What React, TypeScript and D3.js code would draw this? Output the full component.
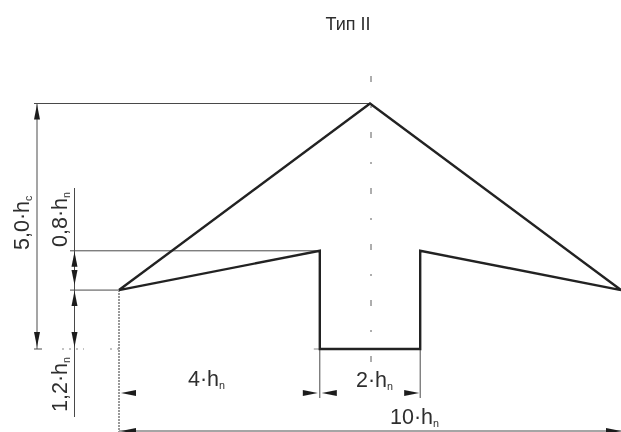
import React from "react";
import * as d3 from "d3";

const title = "Тип II";
const outlineX = [0, 5, 10, 6, 6, 4, 4, 0];
const outlineY = [1.2, 5, 1.2, 2, 0, 0, 2, 1.2];
const levels = [0, 1.2, 2, 5];

const x = d3.scaleLinear().domain([0, 10]).range([119, 621]);
const y = d3.scaleLinear().domain([0, 5]).range([349, 103.5]);
const W = 621;
const H = 432;
const FONT = "'Liberation Sans', Arial, sans-serif";
const TXT = "#2e2e2e";
const LINE = "#4a4a4a";

const outline = d3
  .line<number>()
  .x((d) => x(outlineX[d]))
  .y((d) => y(outlineY[d]))(outlineX.map((_, i) => i)) as string;

function Arrow({ px, py, dir }: { px: number; py: number; dir: "l" | "r" | "u" | "d" }) {
  const L = 15;
  const w = 3;
  const p =
    dir === "l"
      ? [[px, py], [px + L, py - w], [px + L, py + w]]
      : dir === "r"
      ? [[px, py], [px - L, py - w], [px - L, py + w]]
      : dir === "u"
      ? [[px, py], [px - w, py + L], [px + w, py + L]]
      : [[px, py], [px - w, py - L], [px + w, py - L]];
  return <polygon points={p.map((q) => q.join(",")).join(" ")} fill="#1c1c1c" />;
}

function Label({ px, py, main, sub, size = 21.5, rot = false }: { px: number; py: number; main: string; sub: string; size?: number; rot?: boolean }) {
  return (
    <text
      transform={`translate(${px},${py})${rot ? " rotate(-90)" : ""}`}
      fontFamily={FONT}
      fontSize={size}
      fill={TXT}
    >
      {main}
      <tspan fontSize={size * 0.5} dy={3}>{sub}</tspan>
    </text>
  );
}

export default function App() {
  const x0 = x(0), x4 = x(4), x5 = x(5), x6 = x(6), x10 = x(10);
  const [y0, y12, y2, y5] = levels.map((v) => y(v));
  return (
    <svg
      width={W}
      height={H}
      viewBox={`0 0 ${W} ${H}`}
      style={{ position: "absolute", left: 0, top: 0, background: "#fff" }}
    >
      <defs>
        <filter id="soft" x="-2%" y="-2%" width="104%" height="104%">
          <feGaussianBlur stdDeviation="0.45" />
        </filter>
      </defs>
      <g filter="url(#soft)">
        <text x={348} y={30} textAnchor="middle" fontFamily={FONT} fontSize={18} fill={TXT}>
          {title}
        </text>

        {/* centre line */}
        <line x1={x5 + 1} x2={x5 + 1} y1={76} y2={376} stroke="#777" strokeWidth={1.2} strokeDasharray="6 24 2 24" />
        {/* base centre line */}
        <line x1={62} x2={84} y1={y0} y2={y0} stroke="#888" strokeWidth={1.2} strokeDasharray="2 5" />
        <line x1={110} x2={x0} y1={y0} y2={y0} stroke="#888" strokeWidth={1.2} strokeDasharray="2 5" />
        <line x1={x4 - 6} x2={x4} y1={y0} y2={y0} stroke="#888" strokeWidth={1} />

        {/* extension lines */}
        <g stroke={LINE} strokeWidth={1}>
          <line x1={34} x2={x5} y1={y5} y2={y5} />
          <line x1={34} x2={42} y1={y0} y2={y0} />
          <line x1={70} x2={x4} y1={y2} y2={y2} />
          <line x1={70} x2={x0} y1={y12} y2={y12} />
          <line x1={x4} x2={x4} y1={y0} y2={398} />
          <line x1={x6} x2={x6} y1={y0} y2={398} />
          {/* dimension lines */}
          <line x1={37} x2={37} y1={y5} y2={y0} />
          <line x1={74.5} x2={74.5} y1={188} y2={417} />
          <line x1={x0} x2={x10} y1={431} y2={431} />
        </g>
        <line x1={x0} x2={x0} y1={y12} y2={H} stroke="#999" strokeWidth={2} strokeDasharray="2 1" />

        {/* arrows */}
        <Arrow px={37} py={y5 + 1} dir="u" />
        <Arrow px={37} py={y0 - 2} dir="d" />
        <Arrow px={74.5} py={y2 + 1} dir="u" />
        <Arrow px={74.5} py={y12 - 5} dir="d" />
        <Arrow px={74.5} py={y12 + 1} dir="u" />
        <Arrow px={74.5} py={y0 - 2} dir="d" />
        <Arrow px={x0 + 2} py={393} dir="l" />
        <Arrow px={x4 - 2} py={393} dir="r" />
        <Arrow px={x4 + 2} py={393} dir="l" />
        <Arrow px={x6 - 1} py={393} dir="r" />
        <Arrow px={x0 + 2} py={431} dir="l" />
        <Arrow px={x10} py={431} dir="r" />

        {/* outline */}
        <path d={outline} fill="none" stroke="#222" strokeWidth={2.4} strokeLinejoin="miter" />

        {/* labels */}
        <Label px={188} py={386} main="4·h" sub="n" />
        <Label px={356} py={387} main="2·h" sub="n" />
        <Label px={390} py={424} main="10·h" sub="n" />
        <Label px={29} py={250} main="5,0·h" sub="c" rot />
        <Label px={67} py={247} main="0,8·h" sub="n" rot />
        <Label px={67} py={412} main="1,2·h" sub="n" rot />
      </g>
    </svg>
  );
}
